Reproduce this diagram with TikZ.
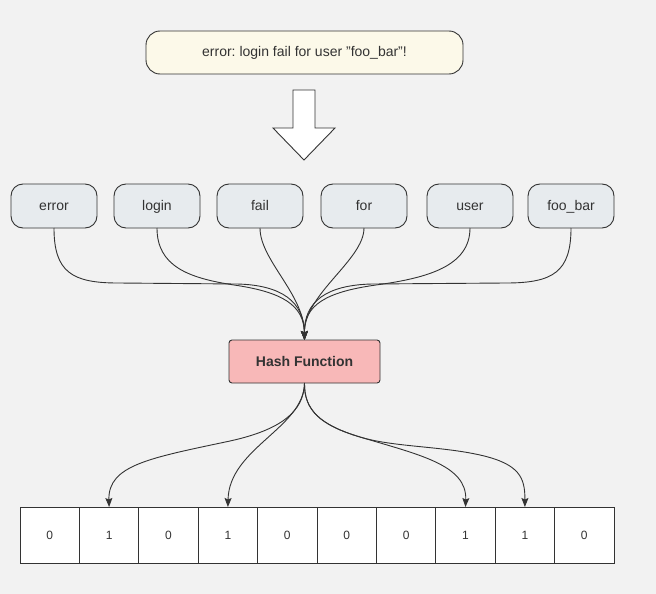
\documentclass[tikz,border=0pt]{standalone}
\usepackage{fontspec}
\setmainfont{Liberation Sans}
\usetikzlibrary{arrows.meta}
\definecolor{bg}{HTML}{F2F2F2}
\definecolor{ink}{HTML}{333333}
\definecolor{cream}{HTML}{FCF9E9}
\definecolor{wordfill}{HTML}{E7EBEE}
\definecolor{hashfill}{HTML}{F8B8B8}
\tikzset{
  base/.style={draw=ink, line width=0.9pt, text=ink, inner sep=0pt, outer sep=0pt,
    text height=9.5pt, text depth=0.5pt, font=\fontsize{14}{16}\selectfont\frenchspacing},
  msgbox/.style={base, fill=cream, rounded corners=14pt, minimum width=317pt, minimum height=43pt},
  wordbox/.style={base, fill=wordfill, rounded corners=12pt, minimum width=86pt, minimum height=44pt},
  hashbox/.style={base, fill=hashfill, rounded corners=3pt, minimum width=151pt, minimum height=43pt, font=\fontsize{14}{16}\selectfont\bfseries},
  cellbox/.style={base, fill=white, minimum width=59.4pt, minimum height=56pt, text height=9pt, text depth=1pt, font=\fontsize{12}{14}\selectfont},
  conn/.style={draw=ink, line width=0.9pt, -{Stealth[length=9pt,width=7pt,inset=1.5pt]}},
  bigarrow/.style={draw=ink, line width=0.9pt, fill=white, line join=miter}
}
\begin{document}
\begin{tikzpicture}[x=1pt, y=-1pt]
\fill[bg] (0,0) rectangle (656,594);
\useasboundingbox (0,0) rectangle (656,594);

\node[msgbox] (msg) at (304.5,52.5) {error: login fail for user "foo\_bar"!};

\draw[bigarrow] (293,90) -- (315,90) -- (315,128) -- (335,128) -- (304,160) -- (273,128) -- (293,128) -- cycle;

\node[wordbox] (w1) at (54,206) {error};
\node[wordbox] (w2) at (157,206) {login};
\node[wordbox] (w3) at (260,206) {fail};
\node[wordbox] (w4) at (364,206) {for};
\node[wordbox] (w5) at (470,206) {user};
\node[wordbox] (w6) at (571,206) {foo\_bar};

\node[hashbox] (h) at (304.5,361.5) {Hash Function};

\foreach \i/\v in {1/0,2/1,3/0,4/1,5/0,6/0,7/0,8/1,9/1,10/0}{
  \node[cellbox] (c\i) at ({20+59.4*(\i-0.5)},535) {\v};
}

% words -> hash
\draw[conn] (w1.south) .. controls (54,272) and (72,283) .. (118,283) -- (237,284)
  .. controls (282,285) and (304,302) .. (h.north);
\draw[conn] (w2.south) .. controls (157,266) and (188,278) .. (234,285)
  .. controls (282,292) and (304,305) .. (h.north);
\draw[conn] (w3.south) .. controls (260,260) and (304,294) .. (h.north);
\draw[conn] (w4.south) .. controls (364,260) and (304,294) .. (h.north);
\draw[conn] (w5.south) .. controls (470,266) and (428,278) .. (376,285)
  .. controls (326,292) and (304,305) .. (h.north);
\draw[conn] (w6.south) .. controls (571,272) and (553,283) .. (506,283) -- (372,284)
  .. controls (326,285) and (304,302) .. (h.north);

% hash -> cells
\draw[conn] (h.south) .. controls (304,412) and (280,430) .. (230,441)
  .. controls (150,458) and (108,465) .. (c2.north);
\draw[conn] (h.south) .. controls (304,428) and (229,448) .. (c4.north);
\draw[conn] (h.south) .. controls (304,410) and (320,425) .. (360,437)
  .. controls (420,455) and (467,465) .. (c8.north);
\draw[conn] (h.south) .. controls (304,410) and (320,425) .. (360,437)
  .. controls (393,447) and (440,446) .. (480,455)
  .. controls (520,464) and (525,478) .. (c9.north);
\end{tikzpicture}
\end{document}
